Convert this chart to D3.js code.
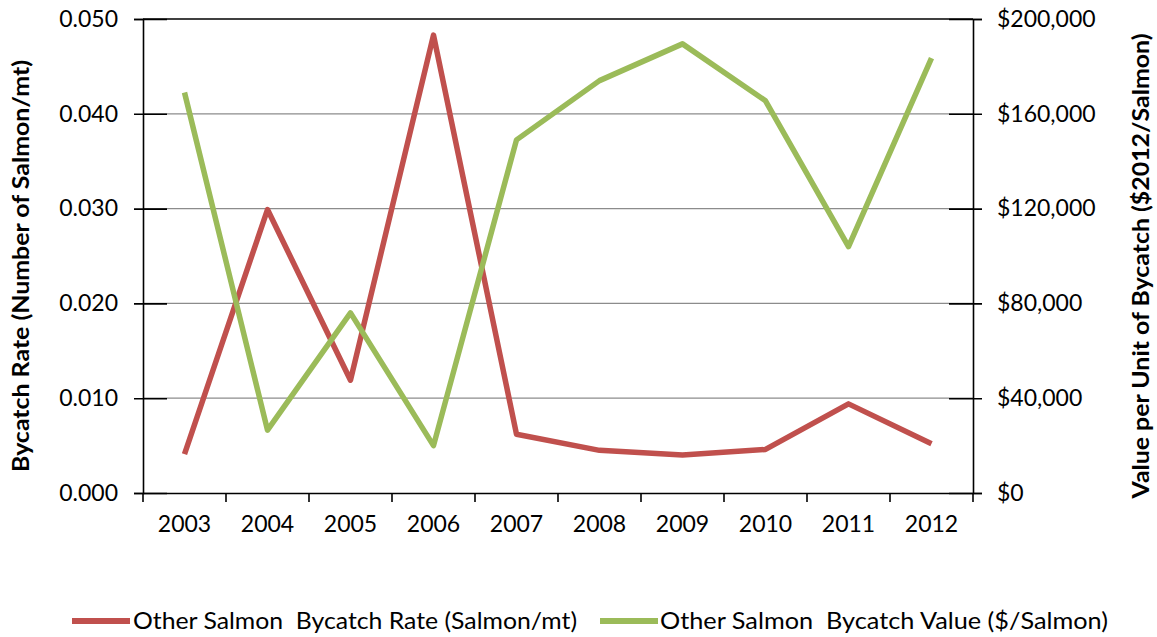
<!DOCTYPE html>
<html><head><meta charset="utf-8">
<script src="https://cdn.jsdelivr.net/npm/d3@7"></script>
<style>body{margin:0;background:#fff}svg{display:block}text{font-family:Lato,"Open Sans",sans-serif}</style>
</head><body>
<svg id="c" width="1157" height="637"></svg>
<script>
const years = ["2003","2004","2005","2006","2007","2008","2009","2010","2011","2012"];
const rateValues = [0.0041,0.0299,0.0119,0.0483,0.0062,0.0045,0.0040,0.0046,0.0094,0.0052];
const valueValues = [169000,26500,76000,20000,149000,174000,189500,165500,104000,183500];
const leftTicks = [0,0.01,0.02,0.03,0.04,0.05];
const rightTicks = [0,40000,80000,120000,160000,200000];
const seriesNames = ["Other Salmon  Bycatch Rate (Salmon/mt)","Other Salmon  Bycatch Value ($/Salmon)"];
const colors = ["#C0504D","#9BBB59"];

const svg = d3.select("#c");
const L=143, R=973, T=19, B=493;
const x = d3.scaleBand().domain(years).range([L,R]);
const yL = d3.scaleLinear().domain([0,0.05]).range([B,T]);
const yR = d3.scaleLinear().domain([0,200000]).range([B,T]);

// gridlines
svg.append("g").selectAll("line").data(leftTicks.filter(d=>d>0)).join("line")
  .attr("x1",L).attr("x2",R).attr("y1",d=>yL(d)).attr("y2",d=>yL(d))
  .attr("stroke",d=>d===0.05?"#000":"#8c8c8c").attr("stroke-width",1.3);

// left axis
const gl = svg.append("g").attr("transform",`translate(${L},0)`)
  .call(d3.axisLeft(yL).tickValues(leftTicks).tickFormat(d3.format(".3f")).tickSize(9).tickPadding(16));
gl.select(".domain").attr("stroke","#000").attr("stroke-width",1.6);
gl.selectAll(".tick line").attr("stroke","#000").attr("stroke-width",1.6).attr("x1",24);
gl.selectAll("text").attr("font-size",23).attr("fill","#000").style("font-family","Lato");

// right axis
const gr = svg.append("g").attr("transform",`translate(${R},0)`)
  .call(d3.axisRight(yR).tickValues(rightTicks).tickFormat(d=>"$"+d3.format(",")(d)).tickSize(9).tickPadding(15));
gr.select(".domain").attr("stroke","#000").attr("stroke-width",1.6);
gr.selectAll(".tick line").attr("stroke","#000").attr("stroke-width",1.6).attr("x1",-24);
gr.selectAll("text").attr("font-size",23).attr("fill","#000").style("font-family","Lato");

// bottom axis
const gb = svg.append("g").attr("transform",`translate(0,${B})`)
  .call(d3.axisBottom(x).tickSize(0).tickPadding(23));
gb.select(".domain").attr("stroke","#000").attr("stroke-width",1.6);
gb.selectAll("text").attr("font-size",23).attr("fill","#000").style("font-family","Lato");
svg.append("g").selectAll("line").data(years.concat(["end"])).join("line")
  .attr("x1",(d,i)=>L+i*x.bandwidth()).attr("x2",(d,i)=>L+i*x.bandwidth())
  .attr("y1",B).attr("y2",B+9).attr("stroke","#000").attr("stroke-width",1.6);

// lines
const lineR = d3.line().x((d,i)=>x(years[i])+x.bandwidth()/2).y(d=>yL(d));
const lineV = d3.line().x((d,i)=>x(years[i])+x.bandwidth()/2).y(d=>yR(d));
svg.append("path").attr("d",lineR(rateValues)).attr("fill","none").attr("stroke",colors[0]).attr("stroke-width",5.5).attr("stroke-linejoin","round");
svg.append("path").attr("d",lineV(valueValues)).attr("fill","none").attr("stroke",colors[1]).attr("stroke-width",5.5).attr("stroke-linejoin","round");

// axis titles
svg.append("text").attr("transform","translate(29,266) rotate(-90)").attr("text-anchor","middle")
  .attr("font-size",23).attr("font-weight","bold")
  .attr("textLength",412).attr("lengthAdjust","spacingAndGlyphs")
  .text("Bycatch Rate (Number of Salmon/mt)");
svg.append("text").attr("transform","translate(1149,266) rotate(-90)").attr("text-anchor","middle")
  .attr("font-size",23).attr("font-weight","bold")
  .attr("textLength",465).attr("lengthAdjust","spacingAndGlyphs")
  .text("Value per Unit of Bycatch ($2012/Salmon)");

// legend
const leg = [{x:72,tx:133,w:444},{x:600,tx:660,w:448}];
leg.forEach((l,i)=>{
  svg.append("line").attr("x1",l.x).attr("x2",l.x+58).attr("y1",621).attr("y2",621)
    .attr("stroke",colors[i]).attr("stroke-width",6);
  svg.append("text").attr("x",l.tx).attr("y",629).attr("font-size",23)
    .style("white-space","pre")
    .attr("textLength",l.w).attr("lengthAdjust","spacingAndGlyphs").text(seriesNames[i]);
});
</script>
</body></html>
